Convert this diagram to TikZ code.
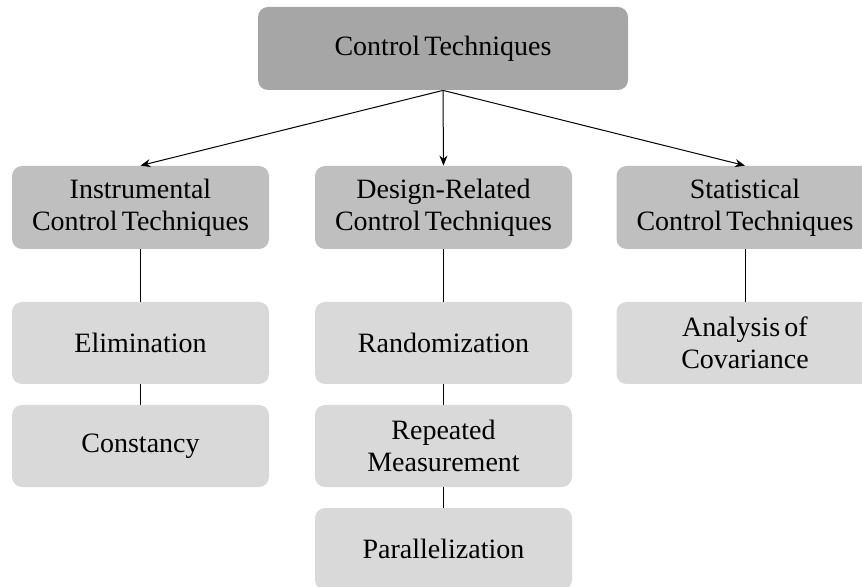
\documentclass[tikz,border=0pt]{standalone}
\usepackage{fontspec}
\setmainfont{Liberation Serif}[WordSpace=0.6]
\usetikzlibrary{arrows.meta}
\begin{document}
\begin{tikzpicture}[x=0.5pt,y=-0.5pt,
  box/.style={rectangle, rounded corners=5pt, draw=none, inner sep=0pt,
    minimum width=128.5pt, minimum height=41pt, align=center,
    font=\fontsize{14}{16}\selectfont},
  topbox/.style={box, fill=gray!70!white, minimum width=185pt, minimum height=41.5pt},
  midbox/.style={box, fill=gray!50!white, minimum height=41.5pt},
  leafbox/.style={box, fill=gray!30!white},
  arr/.style={line width=0.5pt, -{Stealth[length=5pt, width=4pt]}},
  link/.style={line width=0.5pt}]
\useasboundingbox (0,0) rectangle (862,587);
\node[topbox] (top) at (443,48.5) {Control Techniques};
\node[midbox] (inst) at (140.5,207.5) {Instrumental\\Control Techniques};
\node[midbox] (design) at (443.5,207.5) {Design-Related\\Control Techniques};
\node[midbox] (stat) at (745,207.5) {Statistical\\Control Techniques};
\node[leafbox] (elim) at (140.5,343) {Elimination};
\node[leafbox] (const) at (140.5,446) {Constancy};
\node[leafbox] (rand) at (443.5,343) {Randomization};
\node[leafbox] (rep) at (443.5,446) {Repeated\\Measurement};
\node[leafbox] (par) at (443.5,549) {Parallelization};
\node[leafbox] (ancova) at (745,343) {Analysis of\\Covariance};
\draw[arr] (top.south) -- (inst.north);
\draw[arr] (top.south) -- (design.north);
\draw[arr] (top.south) -- (stat.north);
\draw[link] (inst) -- (elim);
\draw[link] (elim) -- (const);
\draw[link] (design) -- (rand);
\draw[link] (rand) -- (rep);
\draw[link] (rep) -- (par);
\draw[link] (stat) -- (ancova);
\end{tikzpicture}
\end{document}
